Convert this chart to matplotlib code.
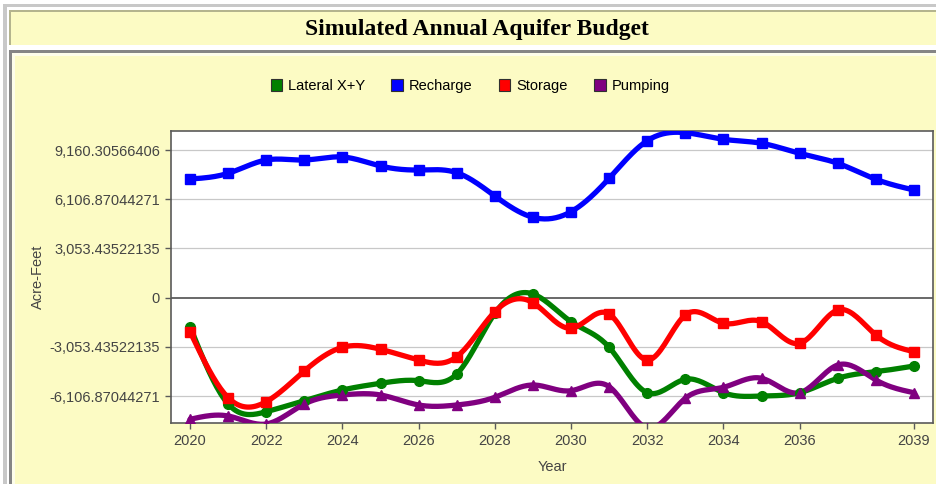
import numpy as np
import matplotlib
matplotlib.use("Agg")
import matplotlib.pyplot as plt
from matplotlib.patches import Rectangle, Patch


years = np.arange(2020, 2040)

lateral = [-1800, -6597, -7075, -6392, -5728, -5312, -5151, -4735, -968, 230,
           -1489, -3078, -5896, -5064, -5896, -6100, -5896, -5002, -4592, -4239]
recharge = [7366, 7720, 8546, 8546, 8732, 8173, 7925, 7758, 6311, 4990,
            5337, 7410, 9743, 10240, 9830, 9582, 8961, 8341, 7348, 6684]
storage = [-2110, -6206, -6454, -4549, -3078, -3202, -3866, -3662, -869, -310,
           -1899, -1012, -3866, -1074, -1589, -1489, -2830, -763, -2315, -3351]
pumping = [-7547, -7342, -7838, -6597, -6038, -6038, -6659, -6659, -6181, -5418,
           -5772, -5523, -8086, -6243, -5561, -5002, -5896, -4177, -5108, -5896]

series_names = ["Lateral X+Y", "Recharge", "Storage", "Pumping"]
series_colors = ["#008000", "#0000FF", "#FF0000", "#800080"]
series_markers = ["o", "s", "s", "^"]

ytick_values = [-6106.87044271, -3053.43522135, 0, 3053.43522135, 6106.87044271, 9160.30566406]
ytick_labels = ["-6,106.87044271", "-3,053.43522135", "0", "3,053.43522135",
                "6,106.87044271", "9,160.30566406"]
xtick_values = [2020, 2022, 2024, 2026, 2028, 2030, 2032, 2034, 2036, 2039]

YELLOW = "#FCFBC4"
W, H = 936, 484
FONT = "Liberation Sans"


def spline(x, y, n=20):
    # natural cubic spline, same look as the spline renderer
    x = np.asarray(x, float)
    y = np.asarray(y, float)
    h = np.diff(x)
    k = len(x)
    A = np.zeros((k, k))
    b = np.zeros(k)
    A[0, 0] = A[-1, -1] = 1
    for i in range(1, k - 1):
        A[i, i - 1] = h[i - 1]
        A[i, i] = 2 * (h[i - 1] + h[i])
        A[i, i + 1] = h[i]
        b[i] = 6 * ((y[i + 1] - y[i]) / h[i] - (y[i] - y[i - 1]) / h[i - 1])
    M = np.linalg.solve(A, b)
    xs, ys = [], []
    for i in range(k - 1):
        t = np.linspace(x[i], x[i + 1], n, endpoint=False)
        a = x[i + 1] - t
        c = t - x[i]
        s = (M[i] * a**3 + M[i + 1] * c**3) / (6 * h[i]) \
            + (y[i] / h[i] - M[i] * h[i] / 6) * a + (y[i + 1] / h[i] - M[i + 1] * h[i] / 6) * c
        xs.append(t)
        ys.append(s)
    xs.append([x[-1]])
    ys.append([y[-1]])
    return np.concatenate(xs), np.concatenate(ys)


def rect(fig, x0, y0, x1, y1, color):
    # pixel box (top-left origin) -> figure fraction
    fig.patches.append(Rectangle((x0 / W, 1 - y1 / H), (x1 - x0) / W, (y1 - y0) / H,
                                 transform=fig.transFigure, color=color, lw=0, zorder=-10))


fig = plt.figure(figsize=(W / 100, H / 100), dpi=100)
fig.patch.set_facecolor("white")

# frames around the page
rect(fig, 3, 4, W, H, "#C8C8C8")
rect(fig, 7, 7, W, H, "white")
# title panel
rect(fig, 9, 10, W, 45, "#B4B48E")
rect(fig, 11, 12, W, 45, YELLOW)
# chart panel
rect(fig, 9, 50, W, H, "#858585")
rect(fig, 12, 53, W, H, "#FDFDEA")
rect(fig, 15, 56, W, H, YELLOW)

fig.text(477 / W, 1 - 29 / H, "Simulated Annual Aquifer Budget", ha="center", va="center",
         fontsize=17, fontweight="bold", family="Liberation Serif")

ax = fig.add_axes([171 / W, 1 - 422.7 / H, 762 / W, 292 / H])
ax.set_zorder(5)
ax.set_facecolor("white")

for data, name, col, mk in zip([lateral, recharge, storage, pumping], series_names,
                               series_colors, series_markers):
    sx, sy = spline(years, data)
    ax.plot(sx, sy, color=col, lw=3.8, solid_capstyle="round", zorder=3)
    ax.plot(years, data, ls="none", marker=mk, ms=7, color=col, zorder=4)

ax.set_xlim(2019.5, 2039.5)
ax.set_ylim(-7758, 10364)
ax.set_yticks(ytick_values)
ax.set_yticklabels(ytick_labels)
ax.set_xticks(xtick_values)
ax.set_xticklabels([str(v) for v in xtick_values])

for v in ytick_values:
    if v == 0:
        ax.axhline(0, color="#404040", lw=1.1, zorder=2)
    else:
        ax.axhline(v, color="#C8C8C8", lw=0.9, zorder=1)

for s in ax.spines.values():
    s.set_color("#5A5A5A")
    s.set_linewidth(1.2)
ax.tick_params(colors="#5A5A5A", labelcolor="#444444", labelsize=10.5, length=4, width=1,
               pad=4)
for lab in ax.get_xticklabels() + ax.get_yticklabels():
    lab.set_family(FONT)

ax.set_ylabel("Acre-Feet", fontsize=10.5, color="#444444", family=FONT, labelpad=3)
ax.set_xlabel("Year", fontsize=10.5, color="#444444", family=FONT, labelpad=9)

handles = [Patch(facecolor=c, edgecolor="#303030", lw=0.8) for c in series_colors]
leg = fig.legend(handles, series_names, loc="center", bbox_to_anchor=(470 / W, 1 - 86 / H),
                 ncol=4, frameon=False, handlelength=0.8, handleheight=0.8,
                 handletextpad=0.4, columnspacing=1.8,
                 prop={"family": FONT, "size": 10.5})
leg.set_zorder(6)

fig.savefig("out.png", dpi=100)
